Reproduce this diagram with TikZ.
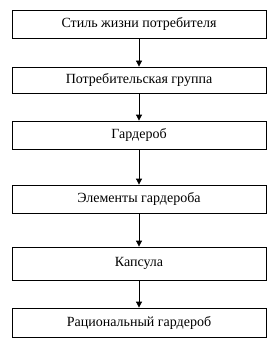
\documentclass[tikz,border=0pt]{standalone}
\usepackage{fontspec}
\setmainfont{Liberation Serif}
\usetikzlibrary{arrows.meta,positioning}

\begin{document}
\begin{tikzpicture}[
  x=1pt, y=-1pt,
  box/.style={
    rectangle, draw, line width=0.8pt, fill=white,
    minimum width=254pt, minimum height=28pt,
    inner sep=0pt, align=center,
    font=\fontsize{14}{16}\selectfont},
  arr/.style={-{Triangle[length=6pt,width=6pt]}, line width=0.8pt},
]
  \useasboundingbox (0,0) rectangle (276,353);

  % ── Chain of boxes ──────────────────────────────────────────────────────
  \node[box] (style)    at (139,24)    {Стиль жизни потребителя};
  \node[box, minimum height=26pt] (group) at (139,80) {Потребительская группа};
  \node[box] (wardrobe) at (139,135)   {Гардероб};
  \node[box] (items)    at (139,199)   {Элементы гардероба};
  \node[box, minimum height=33pt] (capsule) at (139,263.5) {Капсула};
  \node[box, minimum height=29pt] (rational) at (139,322.5) {Рациональный гардероб};

  % ── Arrows ──────────────────────────────────────────────────────────────
  \draw[arr] (style)    -- (group);
  \draw[arr] (group)    -- (wardrobe);
  \draw[arr] (wardrobe) -- (items);
  \draw[arr] (items)    -- (capsule);
  \draw[arr] (capsule)  -- (rational);

\end{tikzpicture}
\end{document}
